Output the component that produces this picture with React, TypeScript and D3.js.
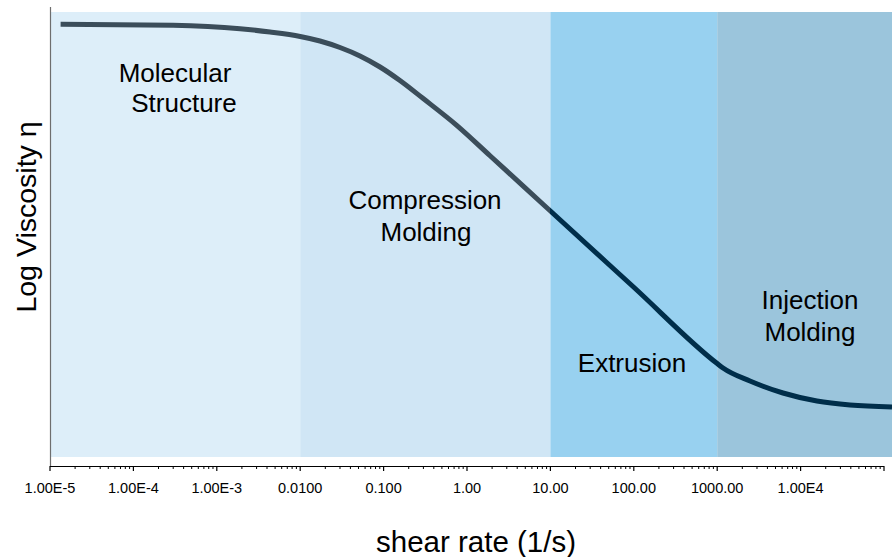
import React from "react";
import * as d3 from "d3";

// Shear-rate regions (1/s) and their fills
const regionStarts = [1e-5, 0.01, 10, 1000];
const regionEnds = [0.01, 10, 1000, 2e5];
const regionColors = ["#ddeef9", "#d0e6f5", "#98d1f0", "#9bc5dc"];

// Viscosity curve: shear rate (1/s) vs log10 viscosity
const shearRate = [
  1.34e-5, 2.99e-4, 1.9e-3, 4.35e-3, 0.01, 0.01726, 0.03, 0.0521, 0.0906, 0.157, 0.296,
  0.759, 1.89, 4.69, 10, 100, 1000, 1175, 2473, 6150, 15700, 39100, 124700,
];
const logViscosity = [
  5.862, 5.851, 5.812, 5.775, 5.725, 5.674, 5.601, 5.506, 5.382, 5.23, 5.03,
  4.724, 4.385, 4.046, 3.764, 2.907, 2.05, 2.0, 1.854, 1.719, 1.629, 1.584, 1.562,
];

// Axis ticks
const tickValues = [1e-5, 1e-4, 1e-3, 0.01, 0.1, 1, 10, 100, 1000, 1e4];
const tickLabels = ["1.00E-5", "1.00E-4", "1.00E-3", "0.0100", "0.100", "1.00", "10.00", "100.00", "1000.00", "1.00E4"];

const W = 892;
const H = 557;
const FONT = "Liberation Sans, Arial, Helvetica, sans-serif";

export default function App() {
  const x = d3.scaleLog().domain([1e-5, 1e5]).range([50, 884]);
  const y = d3.scaleLinear().domain([1, 6]).range([457, 12]);
  const plotTop = 12;
  const plotBottom = 457;
  const axisY = 466;

  const points = shearRate.map((s, i) => [s, logViscosity[i]] as [number, number]);
  const line = d3
    .line<[number, number]>()
    .x((d) => x(d[0]))
    .y((d) => y(d[1]))
    .curve(d3.curveMonotoneX);

  const split = x(10) / W;

  // minor ticks 2..9 within each decade
  const minorTicks: number[] = [];
  for (let e = -5; e < 5; e++) {
    for (let m = 2; m <= 9; m++) minorTicks.push(m * Math.pow(10, e));
  }
  const majorTicks = d3.range(-5, 6).map((e) => Math.pow(10, e));

  return (
    <svg
      width={W}
      height={H}
      style={{ position: "fixed", left: 0, top: 0, background: "#ffffff" }}
      fontFamily={FONT}
    >
      <defs>
        <linearGradient id="curveColor" gradientUnits="userSpaceOnUse" x1={0} x2={W} y1={0} y2={0}>
          <stop offset={split} stopColor="#3b4d5a" />
          <stop offset={split} stopColor="#002e4a" />
        </linearGradient>
      </defs>

      {regionStarts.map((s, i) => (
        <rect
          key={i}
          x={x(s)}
          y={plotTop}
          width={Math.min(x(regionEnds[i]), W) - x(s)}
          height={plotBottom - plotTop}
          fill={regionColors[i]}
        />
      ))}

      <path d={line(points) ?? ""} fill="none" stroke="url(#curveColor)" strokeWidth={5} />

      {/* y axis */}
      <line x1={50.5} x2={50.5} y1={7} y2={axisY} stroke="#6e6e6e" strokeWidth={1.2} />
      {/* x axis */}
      <line x1={50} x2={884} y1={axisY + 0.5} y2={axisY + 0.5} stroke="#000" strokeWidth={1.2} />
      {minorTicks.map((t, i) => (
        <line key={"m" + i} x1={x(t)} x2={x(t)} y1={axisY} y2={axisY + 3} stroke="#000" strokeWidth={1} />
      ))}
      {majorTicks.map((t, i) => (
        <line key={"M" + i} x1={x(t)} x2={x(t)} y1={axisY} y2={axisY + 5} stroke="#000" strokeWidth={1.2} />
      ))}
      {tickValues.map((t, i) => (
        <text key={"l" + i} x={x(t)} y={493} textAnchor="middle" fontSize={14.5} fill="#000">
          {tickLabels[i]}
        </text>
      ))}

      {/* region labels */}
      <g fontSize={26} fill="#000" textAnchor="middle">
        <text x={175} y={82}>Molecular</text>
        <text x={184} y={112}>Structure</text>
        <text x={425} y={209}>Compression</text>
        <text x={426} y={241}>Molding</text>
        <text x={632} y={372}>Extrusion</text>
        <text x={810} y={309}>Injection</text>
        <text x={810} y={341}>Molding</text>
      </g>

      <text x={476} y={552} textAnchor="middle" fontSize={29.5} fill="#000">
        shear rate (1/s)
      </text>
      <text
        transform={`translate(36, 217) rotate(-90)`}
        textAnchor="middle"
        fontSize={28.5}
        fill="#000"
      >
        Log Viscosity η
      </text>
    </svg>
  );
}
